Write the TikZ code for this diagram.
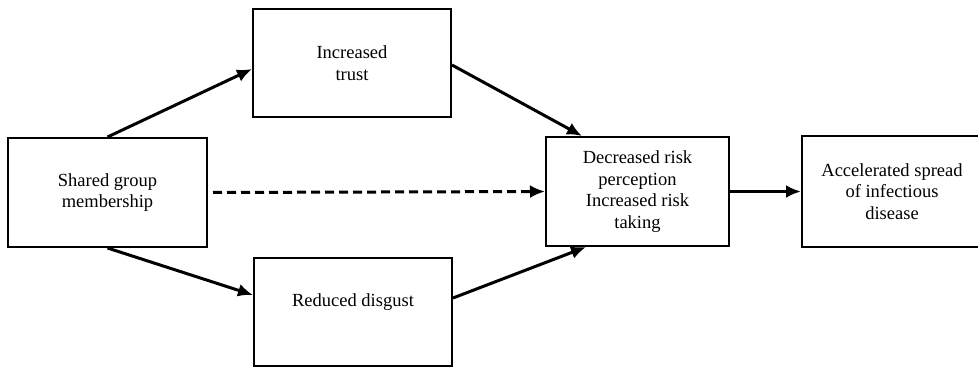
\documentclass[tikz,border=0pt]{standalone}
\usepackage{fontspec}
\setmainfont{Liberation Serif}
\usetikzlibrary{arrows.meta}
\begin{document}
\begin{tikzpicture}[x=1pt,y=-1pt,
  box/.style={draw, line width=2pt, inner sep=0pt, align=center,
    font=\fontsize{18.5}{21.5}\selectfont},
  conn/.style={line width=3pt, -{Latex[length=15pt,width=13pt]}},
  dconn/.style={conn, dash pattern=on 9pt off 5pt}]
\useasboundingbox (0,0) rectangle (978,367);
\node[box, minimum width=199pt, minimum height=109pt] (shared) at (107.5,192.5) {Shared group\\membership};
\node[box, minimum width=198pt, minimum height=108pt] (trust) at (352,63) {Increased\\trust};
\node[box, minimum width=198pt, minimum height=108pt, text depth=24pt] (reduced) at (353,312) {Reduced disgust};
\node[box, minimum width=183pt, minimum height=109pt] (decision) at (637.5,191.5) {Decreased risk\\perception\\Increased risk\\taking};
\node[box, minimum width=180pt, minimum height=111pt] (accel) at (892,191.5) {Accelerated spread\\of infectious\\disease};
\draw[conn] (shared.north) -- ([yshift=-6pt]trust.west);
\draw[conn] (shared.south) -- ([yshift=17pt]reduced.west);
\draw[conn] ([yshift=-2pt]trust.east) -- ([xshift=37pt]decision.north west);
\draw[conn] ([yshift=14pt]reduced.east) -- ([xshift=41pt]decision.south west);
\draw[dconn, shorten <=5pt] (shared.east) -- (decision.west);
\draw[conn] (decision.east) -- (accel.west);
\end{tikzpicture}
\end{document}
